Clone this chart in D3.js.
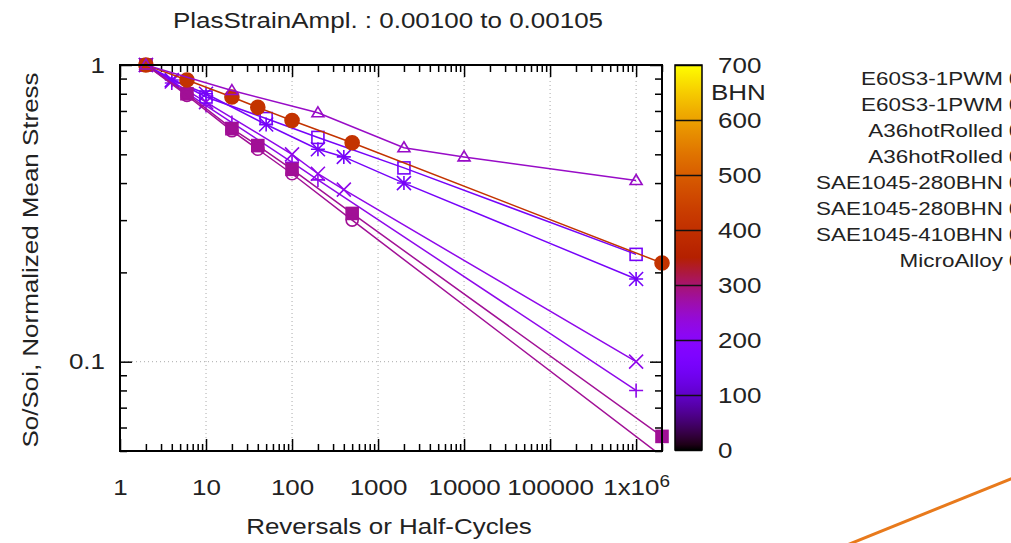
<!DOCTYPE html>
<html>
<head>
<meta charset="utf-8">
<script src="https://d3js.org/d3.v7.min.js"></script>
<style>
  body { margin: 0; background: #fff; }
  text { font-family: "Liberation Sans", Arial, sans-serif; fill: #222; }
</style>
</head>
<body>
<svg id="chart" width="1011" height="543"></svg>
<script>
// ---- data ----
var names    = ["E60S3-1PWM", "E60S3-1PWM", "A36hotRolled", "A36hotRolled",
                "SAE1045-280BHN", "SAE1045-280BHN", "SAE1045-410BHN", "MicroAlloy"];
var hardness = [220, 220, 150, 150, 280, 280, 410, 250];   // BHN, drives the colour
var symbols  = ["plus", "cross", "star", "square", "fsquare", "circle", "fcircle", "triangle"];

var cycles = [
  [2, 4, 10, 20, 100, 200, 1000000],
  [2, 4, 10, 100, 200, 400, 1000000],
  [2, 4, 10, 50, 200, 400, 2000, 1000000],
  [2, 10, 50, 200, 2000, 1000000],
  [2, 6, 20, 40, 100, 500, 2000000],
  [2, 6, 20, 40, 100, 500, 2000000],
  [2, 6, 20, 40, 100, 500, 2000000],
  [2, 20, 200, 2000, 10000, 1000000]
];
var stress = [
  [1, 0.87, 0.73, 0.64, 0.47, 0.41, 0.080],
  [1, 0.88, 0.75, 0.50, 0.43, 0.38, 0.10],
  [1, 0.89, 0.80, 0.63, 0.52, 0.49, 0.40, 0.19],
  [1, 0.78, 0.66, 0.57, 0.45, 0.23],
  [1, 0.80, 0.61, 0.535, 0.445, 0.316, 0.056],
  [1, 0.79, 0.60, 0.52, 0.43, 0.30, 0.048],
  [1, 0.89, 0.78, 0.72, 0.65, 0.547, 0.215],
  [1, 0.82, 0.69, 0.526, 0.49, 0.408]
];

var xMajor = [1, 10, 100, 1000, 10000, 100000, 1000000];
var yMajor = [0.1, 1];
var cbTicks = [0, 100, 200, 300, 400, 500, 600, 700];

var title = "PlasStrainAmpl. : 0.00100 to 0.00105";

// ---- layout ----
var L = 120, R = 662, T = 65, B = 451;
var FS = 22, WIDEN = 1.18;   // the source font runs wider than Liberation Sans
var svg = d3.select("#chart");

var x = d3.scaleLog().domain([1, 2e6]).range([L, R]);
var y = d3.scaleLog().domain([0.05, 1]).range([B, T]);
var cb = d3.scaleLinear().domain([0, 700]).range([450, 65]);

// gnuplot default palette (rgbformulae 7,5,15)
function pal(v) {
  var t = Math.max(0, Math.min(1, v / 700));
  var c = function(u) { return Math.round(255 * Math.max(0, Math.min(1, u))); };
  return "rgb(" + c(Math.sqrt(t)) + "," + c(t * t * t) + "," + c(Math.sin(2 * Math.PI * t)) + ")";
}

function widen(sel) {
  sel.each(function() {
    var w = this.getComputedTextLength();
    if (w > 0) d3.select(this).attr("textLength", w * WIDEN).attr("lengthAdjust", "spacingAndGlyphs");
  });
}

// minor ticks
var xMinor = [], yMinor = [];
xMajor.forEach(function(d) { for (var k = 2; k <= 9; k++) if (d * k <= 2e6) xMinor.push(d * k); });
[0.01, 0.1].forEach(function(d) { for (var k = 2; k <= 9; k++) if (d * k >= 0.05) yMinor.push(d * k); });

// grid
var grid = svg.append("g").attr("stroke", "#aaa").attr("stroke-dasharray", "1,3").attr("stroke-width", 1);
xMajor.slice(1).forEach(function(d) {
  grid.append("line").attr("x1", x(d)).attr("x2", x(d)).attr("y1", T).attr("y2", B);
});
grid.append("line").attr("x1", L).attr("x2", R).attr("y1", y(0.1)).attr("y2", y(0.1));

// axes
function styleAxis(g) {
  g.select(".domain").remove();
  g.selectAll("line").attr("stroke", "#000").attr("stroke-width", 1.5);
  g.selectAll("text").style("font-size", FS + "px").attr("fill", "#222");
}
var xAxisG = svg.append("g").attr("transform", "translate(0," + B + ")")
  .call(d3.axisBottom(x).tickValues(xMajor).tickSize(-12).tickPadding(28)
    .tickFormat(function(d) { return d >= 1e6 ? "" : d3.format("d")(d); }))
  .call(styleAxis);
xAxisG.selectAll(".tick text").filter(function(d) { return d >= 1e6; })
  .each(function() {
    var t = d3.select(this);
    t.append("tspan").text("1x10");
    t.append("tspan").attr("dy", "-0.45em").style("font-size", "16px").text("6");
  });
widen(xAxisG.selectAll(".tick text"));

svg.append("g").attr("transform", "translate(0," + B + ")")
  .call(d3.axisBottom(x).tickValues(xMinor).tickSize(-7).tickFormat("")).call(styleAxis);
svg.append("g").attr("transform", "translate(0," + T + ")")
  .call(d3.axisTop(x).tickValues(xMajor).tickSize(-12).tickFormat("")).call(styleAxis);
svg.append("g").attr("transform", "translate(0," + T + ")")
  .call(d3.axisTop(x).tickValues(xMinor).tickSize(-7).tickFormat("")).call(styleAxis);

var yAxisG = svg.append("g").attr("transform", "translate(" + L + ",0)")
  .call(d3.axisLeft(y).tickValues(yMajor).tickSize(-12).tickPadding(15)
    .tickFormat(function(d) { return d === 1 ? "1" : "0.1"; }))
  .call(styleAxis);
widen(yAxisG.selectAll(".tick text"));
svg.append("g").attr("transform", "translate(" + L + ",0)")
  .call(d3.axisLeft(y).tickValues(yMinor).tickSize(-7).tickFormat("")).call(styleAxis);
svg.append("g").attr("transform", "translate(" + R + ",0)")
  .call(d3.axisRight(y).tickValues(yMajor).tickSize(-12).tickFormat("")).call(styleAxis);
svg.append("g").attr("transform", "translate(" + R + ",0)")
  .call(d3.axisRight(y).tickValues(yMinor).tickSize(-7).tickFormat("")).call(styleAxis);

// clip for series
svg.append("clipPath").attr("id", "plotclip")
  .append("rect").attr("x", L).attr("y", T).attr("width", R - L).attr("height", B - T);

var line = d3.line().x(function(d) { return x(d[0]); }).y(function(d) { return y(d[1]); });
var plot = svg.append("g");

function drawMarker(g, type, px, py, col) {
  var s = 7;
  if (type === "plus") {
    g.append("path").attr("d", "M" + (px - s) + "," + py + "H" + (px + s) + "M" + px + "," + (py - s) + "V" + (py + s))
      .attr("stroke", col).attr("stroke-width", 1.6).attr("fill", "none");
  } else if (type === "cross") {
    g.append("path").attr("d", "M" + (px - s) + "," + (py - s) + "L" + (px + s) + "," + (py + s) +
      "M" + (px - s) + "," + (py + s) + "L" + (px + s) + "," + (py - s))
      .attr("stroke", col).attr("stroke-width", 1.6).attr("fill", "none");
  } else if (type === "star") {
    g.append("path").attr("d", "M" + (px - s) + "," + py + "H" + (px + s) + "M" + px + "," + (py - s) + "V" + (py + s) +
      "M" + (px - s) + "," + (py - s) + "L" + (px + s) + "," + (py + s) +
      "M" + (px - s) + "," + (py + s) + "L" + (px + s) + "," + (py - s))
      .attr("stroke", col).attr("stroke-width", 1.6).attr("fill", "none");
  } else if (type === "square" || type === "fsquare") {
    g.append("rect").attr("x", px - 6).attr("y", py - 6).attr("width", 12).attr("height", 12)
      .attr("stroke", col).attr("stroke-width", 1.6)
      .attr("fill", type === "fsquare" ? col : "none");
  } else if (type === "circle" || type === "fcircle") {
    g.append("circle").attr("cx", px).attr("cy", py).attr("r", type === "fcircle" ? 7 : 6)
      .attr("stroke", col).attr("stroke-width", 1.6)
      .attr("fill", type === "fcircle" ? col : "none");
  } else if (type === "triangle") {
    g.append("path").attr("d", "M" + px + "," + (py - 6) + "L" + (px + 6) + "," + (py + 4) + "L" + (px - 6) + "," + (py + 4) + "Z")
      .attr("stroke", col).attr("stroke-width", 1.6).attr("fill", "none");
  }
}

names.forEach(function(n, i) {
  var col = pal(hardness[i]);
  var pts = cycles[i].map(function(c, j) { return [c, stress[i][j]]; });
  plot.append("path").datum(pts).attr("d", line)
    .attr("fill", "none").attr("stroke", col).attr("stroke-width", 1.5)
    .attr("clip-path", "url(#plotclip)");
  var mg = plot.append("g");
  pts.forEach(function(p) {
    if (p[1] < 0.05) return;
    drawMarker(mg, symbols[i], x(p[0]), y(p[1]), col);
  });
});

// border
svg.append("rect").attr("x", L).attr("y", T).attr("width", R - L).attr("height", B - T)
  .attr("fill", "none").attr("stroke", "#000").attr("stroke-width", 2);

// colour box
var defs = svg.append("defs");
var grad = defs.append("linearGradient").attr("id", "cbgrad")
  .attr("x1", 0).attr("y1", 1).attr("x2", 0).attr("y2", 0);
d3.range(0, 701, 10).forEach(function(v) {
  grad.append("stop").attr("offset", v / 700).attr("stop-color", pal(v));
});
svg.append("rect").attr("x", 675).attr("y", cb(700)).attr("width", 27).attr("height", cb(0) - cb(700))
  .attr("fill", "url(#cbgrad)");
var cbG = svg.append("g").attr("transform", "translate(702,0)")
  .call(d3.axisRight(cb).tickValues(cbTicks).tickSize(-27).tickPadding(16))
  .call(function(g) {
    g.select(".domain").remove();
    g.selectAll("line").attr("stroke", "#111").attr("stroke-width", 1.5);
    g.selectAll("text").style("font-size", FS + "px").attr("fill", "#222");
  });
widen(cbG.selectAll(".tick text"));
svg.append("rect").attr("x", 675).attr("y", cb(700)).attr("width", 27).attr("height", cb(0) - cb(700))
  .attr("fill", "none").attr("stroke", "#000").attr("stroke-width", 1.5);
widen(svg.append("text").attr("x", 711).attr("y", 100).style("font-size", FS + "px").text("BHN"));

// title and axis labels
widen(svg.append("text").attr("x", 388).attr("y", 28).attr("text-anchor", "middle")
  .style("font-size", FS + "px").text(title));
widen(svg.append("text").attr("x", 389).attr("y", 534).attr("text-anchor", "middle")
  .style("font-size", FS + "px").text("Reversals or Half-Cycles"));
widen(svg.append("text").attr("transform", "translate(38,260) rotate(-90)").attr("text-anchor", "middle")
  .style("font-size", FS + "px").text("So/Soi, Normalized Mean Stress"));

// key (runs past the right edge of the window)
names.forEach(function(n, i) {
  var yy = 78 + i * 26;
  widen(svg.append("text").attr("x", 1003).attr("y", yy).attr("dy", "0.35em").attr("text-anchor", "end")
    .style("font-size", "19px").text(n));
  svg.append("text").attr("x", 1009).attr("y", yy).attr("dy", "0.35em")
    .style("font-size", "19px").text("0.001");
});

// stray orange stroke at bottom right
svg.append("line").attr("x1", 847).attr("y1", 545).attr("x2", 1013).attr("y2", 478)
  .attr("stroke", "#e87a1c").attr("stroke-width", 3);
</script>
</body>
</html>
